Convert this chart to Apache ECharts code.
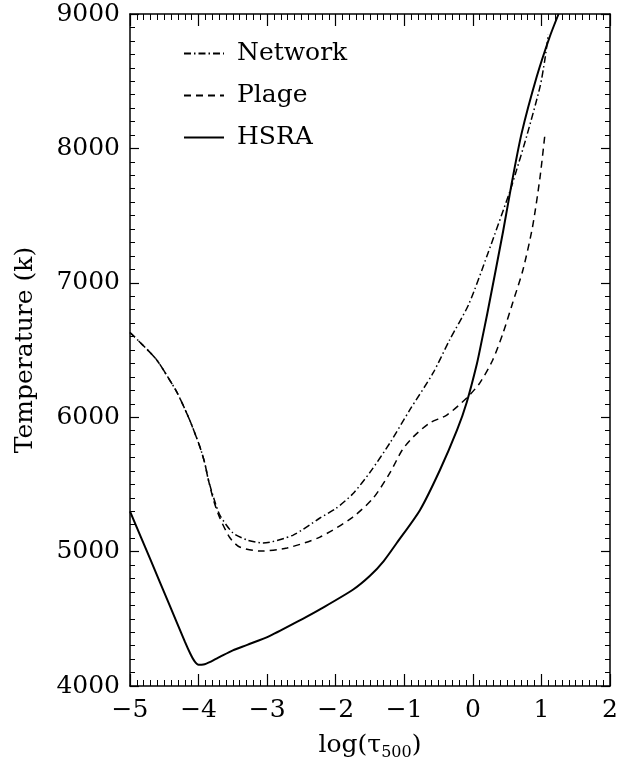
<!DOCTYPE html>
<html>
<head>
<meta charset="utf-8">
<script src="https://cdn.jsdelivr.net/npm/echarts@6/dist/echarts.min.js"></script>
<style>
html,body{margin:0;padding:0;background:#fff;}
#chart{width:624px;height:769px;}
</style>
</head>
<body>
<div id="chart"></div>
<script>
// ---- data ----
const seriesNames = ['Network', 'Plage', 'HSRA'];
const xTickValues = [-5, -4, -3, -2, -1, 0, 1, 2];
const xTickLabels = ['\u22125', '\u22124', '\u22123', '\u22122', '\u22121', '0', '1', '2'];
const yTickValues = [4000, 5000, 6000, 7000, 8000, 9000];
const yTickLabels = ['4000', '5000', '6000', '7000', '8000', '9000'];

const networkX = [-5, -4.8, -4.61, -4.45, -4.31, -4.13, -3.98, -3.91, -3.86, -3.78, -3.69, -3.5, -3.29, -3.06, -2.62, -2.23, -2.0, -1.75, -1.5, -1.21, -0.92, -0.58, -0.34, -0.06, 0.22, 0.54, 0.62, 0.79, 0.98, 1.05, 1.1];
const networkT = [6630, 6530, 6426, 6300, 6180, 5979, 5778, 5659, 5540, 5400, 5272, 5140, 5086, 5064, 5123, 5250, 5320, 5430, 5590, 5808, 6054, 6329, 6574, 6840, 7220, 7680, 7810, 8100, 8460, 8660, 8850];

const plageX = [-5, -4.8, -4.61, -4.45, -4.31, -4.13, -3.98, -3.91, -3.86, -3.78, -3.69, -3.54, -3.4, -3.1, -2.71, -2.23, -1.75, -1.45, -1.21, -1.03, -0.87, -0.63, -0.38, -0.09, 0.1, 0.29, 0.44, 0.58, 0.73, 0.87, 0.98, 1.05];
const plageT = [6630, 6530, 6426, 6300, 6180, 5979, 5778, 5659, 5540, 5380, 5250, 5101, 5034, 5004, 5027, 5108, 5257, 5400, 5585, 5756, 5853, 5957, 6016, 6143, 6254, 6426, 6626, 6850, 7095, 7415, 7787, 8100];

const hsraX = [-5, -4.7, -4.42, -4.2, -4.12, -4.06, -4.0, -3.93, -3.82, -3.69, -3.5, -3.29, -2.96, -2.48, -2.23, -1.75, -1.5, -1.3, -1.11, -0.77, -0.48, -0.23, -0.09, 0.06, 0.13, 0.21, 0.44, 0.57, 0.71, 0.93, 1.12, 1.25];
const hsraT = [5300, 4938, 4598, 4330, 4240, 4185, 4158, 4160, 4182, 4216, 4265, 4306, 4373, 4500, 4570, 4716, 4820, 4930, 5064, 5310, 5607, 5905, 6110, 6400, 6570, 6770, 7380, 7750, 8110, 8531, 8829, 9000];

function pairs(xs, ys) { return xs.map((x, i) => [x, ys[i]]); }

const FONT = 'DejaVu Serif';
const chart = echarts.init(document.getElementById('chart'), null, {renderer: 'canvas'});

function xAxisCfg(pos, showLabel) {
  return {
    type: 'value', position: pos, min: -5, max: 2, interval: 1,
    axisLine: {show: true, onZero: false, lineStyle: {color: '#000', width: 1.5}},
    axisTick: {show: true, inside: true, length: 12, lineStyle: {color: '#000', width: 1.2}},
    minorTick: {show: true, splitNumber: 10, length: 6, lineStyle: {color: '#000', width: 1}},
    splitLine: {show: false},
    axisLabel: {
      show: showLabel, margin: 12, color: '#000', fontFamily: FONT, fontSize: 25,
      formatter: v => { const i = xTickValues.indexOf(Math.round(v)); return i >= 0 ? xTickLabels[i] : ''; }
    }
  };
}
function yAxisCfg(pos, showLabel) {
  return {
    type: 'value', position: pos, min: 4000, max: 9000, interval: 1000,
    axisLine: {show: true, onZero: false, lineStyle: {color: '#000', width: 1.5}},
    axisTick: {show: true, inside: true, length: 9, lineStyle: {color: '#000', width: 1.2}},
    minorTick: {show: true, splitNumber: 10, length: 5, lineStyle: {color: '#000', width: 1}},
    splitLine: {show: false},
    axisLabel: {
      show: showLabel, margin: 10, color: '#000', fontFamily: FONT, fontSize: 25,
      formatter: v => { const i = yTickValues.indexOf(Math.round(v)); return i >= 0 ? yTickLabels[i] : ''; }
    }
  };
}

const xMain = xAxisCfg('bottom', true);
xMain.name = 'log(\u03c4{sub|500})';
xMain.nameLocation = 'middle';
xMain.nameGap = 43;
xMain.nameTextStyle = {
  color: '#000', fontFamily: FONT, fontSize: 25,
  rich: {sub: {fontFamily: FONT, fontSize: 16, color: '#000', padding: [16, 0, 0, 0]}}
};
const yMain = yAxisCfg('left', true);
yMain.name = 'Temperature (k)';
yMain.nameLocation = 'middle';
yMain.nameGap = 92;
yMain.nameTextStyle = {color: '#000', fontFamily: FONT, fontSize: 25};

const lineBase = {type: 'line', symbol: 'none', smooth: 0.25, clip: true, xAxisIndex: 0, yAxisIndex: 0};

chart.setOption({
  animation: false,
  backgroundColor: '#fff',
  grid: {left: 130, right: 14, top: 14, bottom: 83, containLabel: false},
  xAxis: [xMain, xAxisCfg('top', false)],
  yAxis: [yMain, yAxisCfg('right', false)],
  legend: {
    data: seriesNames, orient: 'vertical', left: 178, top: 36,
    itemWidth: 40, itemHeight: 14, itemGap: 17,
    itemStyle: {color: 'rgba(0,0,0,0)', borderWidth: 0, opacity: 0},
    textStyle: {color: '#000', fontFamily: FONT, fontSize: 25, padding: [0, 0, 0, 8]},
    inactiveColor: '#000'
  },
  series: [
    Object.assign({}, lineBase, {name: seriesNames[0], data: pairs(networkX, networkT),
      lineStyle: {color: '#000', width: 1.5, type: [7, 3, 1.5, 3]}, itemStyle: {color: '#000'}}),
    Object.assign({}, lineBase, {name: seriesNames[1], data: pairs(plageX, plageT),
      lineStyle: {color: '#000', width: 1.5, type: [7, 5]}, itemStyle: {color: '#000'}}),
    Object.assign({}, lineBase, {name: seriesNames[2], data: pairs(hsraX, hsraT),
      lineStyle: {color: '#000', width: 2, type: 'solid'}, itemStyle: {color: '#000'}})
  ]
});
</script>
</body>
</html>
